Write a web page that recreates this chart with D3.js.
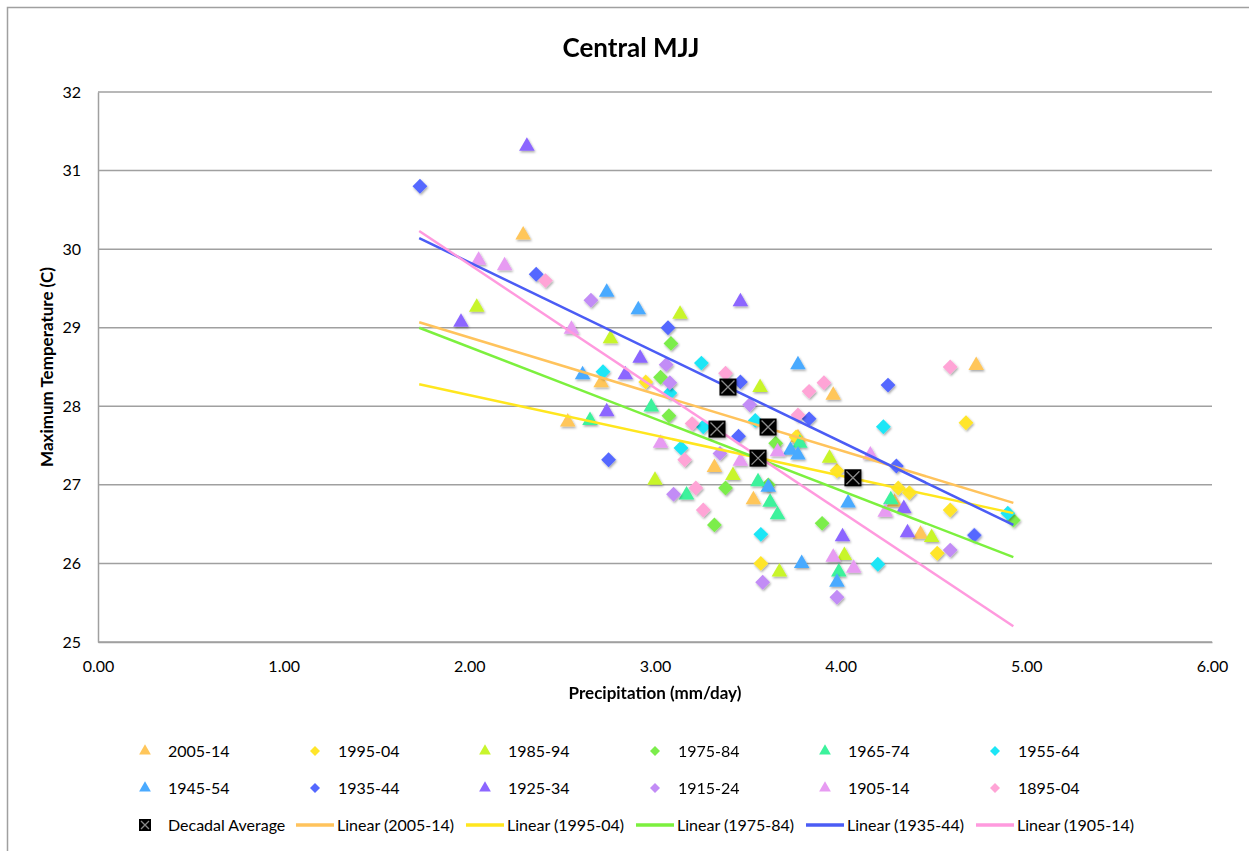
<!DOCTYPE html>
<html>
<head>
<meta charset="utf-8">
<script src="https://cdn.jsdelivr.net/npm/d3@7"></script>
<style>
  body { margin: 0; background: #fff; }
  text { font-family: Lato, "Open Sans", sans-serif; fill: #000; }
</style>
</head>
<body>
<svg id="chart" width="1249" height="851"></svg>
<script>
// series, in legend order
const seriesNames = ['2005-14', '1995-04', '1985-94', '1975-84', '1965-74', '1955-64',
  '1945-54', '1935-44', '1925-34', '1915-24', '1905-14', '1895-04'];
const seriesShapes = ['tri', 'dia', 'tri', 'dia', 'tri', 'dia', 'tri', 'dia', 'tri', 'dia', 'tri', 'dia'];
const seriesColors = ['#ffc65a', '#ffe52a', '#c8f52c', '#7ced4c', '#3cf29c', '#1ce6f6',
  '#4aaaff', '#5468ff', '#8c66ff', '#c28cf6', '#e79bf2', '#ffa4d6'];

// [precip, tmax]
const p2005 = [[2.29, 30.18], [2.71, 28.30], [2.53, 27.80], [3.32, 27.22], [3.53, 26.81],
  [3.96, 28.14], [4.73, 28.52], [4.29, 26.78], [4.43, 26.37], [3.77, 27.60]];
const p1995 = [[2.95, 28.31], [3.76, 27.61], [3.98, 27.18], [4.675, 27.79], [4.31, 26.96],
  [4.37, 26.90], [4.59, 26.68], [4.52, 26.13], [3.57, 26.00]];
const p1985 = [[2.04, 29.26], [3.135, 29.17], [2.76, 28.86], [3.566, 28.24], [3.00, 27.06],
  [3.42, 27.12], [3.67, 25.89], [3.94, 27.34], [4.02, 26.10], [4.49, 26.33]];
const p1975 = [[3.086, 28.80], [3.03, 28.37], [3.075, 27.88], [3.32, 26.49], [3.38, 26.96],
  [3.65, 27.53], [3.90, 26.51], [4.93, 26.55], [3.61, 27.00]];
const p1965 = [[2.65, 27.82], [2.98, 27.99], [3.17, 26.87], [3.555, 27.04], [3.62, 26.78],
  [3.66, 26.62], [3.78, 27.53], [3.99, 25.89], [4.27, 26.81]];
const p1955 = [[3.25, 28.55], [2.72, 28.44], [3.08, 28.17], [3.26, 27.74], [3.14, 27.47],
  [3.54, 27.82], [3.57, 26.37], [4.23, 27.74], [4.90, 26.64], [4.20, 25.99]];
const p1945 = [[2.74, 29.45], [2.91, 29.23], [2.61, 28.40], [3.77, 28.53], [3.61, 26.97],
  [3.73, 27.44], [3.77, 27.38], [3.79, 26.00], [3.98, 25.76], [4.04, 26.77]];
const p1935 = [[1.734, 30.80], [2.36, 29.68], [3.07, 29.00], [3.46, 28.31], [2.75, 27.32],
  [3.45, 27.62], [3.83, 27.84], [4.255, 28.27], [4.30, 27.24], [4.72, 26.36]];
const p1925 = [[2.31, 31.31], [1.955, 29.07], [3.46, 29.33], [2.92, 28.61], [2.84, 28.40],
  [2.74, 27.93], [4.01, 26.34], [4.34, 26.70], [4.36, 26.39]];
const p1915 = [[2.655, 29.35], [3.06, 28.53], [3.08, 28.30], [3.51, 28.02], [3.35, 27.40],
  [3.10, 26.88], [3.58, 25.76], [3.98, 25.57], [4.59, 26.17]];
const p1905 = [[2.05, 29.86], [2.19, 29.79], [2.55, 28.98], [3.03, 27.53], [3.46, 27.30],
  [3.66, 27.42], [4.16, 27.38], [4.24, 26.65], [3.96, 26.08], [4.07, 25.94]];
const p1895 = [[2.41, 29.60], [3.38, 28.42], [3.20, 27.78], [3.16, 27.32], [3.22, 26.96],
  [3.26, 26.68], [3.77, 27.89], [3.83, 28.19], [3.91, 28.30], [4.59, 28.50]];
const seriesPoints = [p2005, p1995, p1985, p1975, p1965, p1955, p1945, p1935, p1925, p1915, p1905, p1895];

const decadalAvg = [[3.393, 28.245], [3.334, 27.71], [3.609, 27.736], [3.555, 27.34], [4.066, 27.09]];

// trend lines, endpoints
const trendNames = ['Linear (2005-14)', 'Linear (1995-04)', 'Linear (1975-84)', 'Linear (1935-44)', 'Linear (1905-14)'];
const trendColors = ['#ffc35c', '#ffe61e', '#7cf03e', '#4b5cf5', '#ff9ade'];
const trendX = [1.73, 4.93];
const trendStartY = [29.07, 28.28, 29.00, 30.14, 30.23];
const trendEndY = [26.77, 26.64, 26.08, 26.49, 25.20];

const xTicks = [0, 1, 2, 3, 4, 5, 6];
const yTicks = [25, 26, 27, 28, 29, 30, 31, 32];

const svg = d3.select('#chart');
const gridColor = '#a0a0a0';

// shadow like the spreadsheet markers
const defs = svg.append('defs');
defs.append('filter').attr('id', 'shadow')
  .attr('x', '-50%').attr('y', '-50%').attr('width', '200%').attr('height', '200%')
  .append('feDropShadow')
  .attr('dx', 1).attr('dy', 1.5).attr('stdDeviation', 1)
  .attr('flood-color', '#000').attr('flood-opacity', 0.35);

// outer frame
svg.append('rect')
  .attr('x', 7.5).attr('y', 7.5).attr('width', 1300).attr('height', 900)
  .attr('fill', 'none').attr('stroke', gridColor).attr('stroke-width', 1.5);

const xScale = d3.scaleLinear().domain([0, 6]).range([98, 1212]);
const yScale = d3.scaleLinear().domain([25, 32]).range([642, 92]);

// gridlines
svg.append('g')
  .selectAll('line')
  .data(yTicks)
  .enter()
  .append('line')
  .attr('x1', xScale(0)).attr('x2', xScale(6))
  .attr('y1', (d) => yScale(d)).attr('y2', (d) => yScale(d))
  .attr('stroke', gridColor).attr('stroke-width', 1.5);

// AXES
const xAxis = svg.append('g')
  .attr('transform', `translate(0, ${yScale(25)})`)
  .call(d3.axisBottom(xScale).tickValues(xTicks).tickFormat(d3.format('.2f')).tickSize(0).tickPadding(19));
const yAxis = svg.append('g')
  .attr('transform', `translate(${xScale(0)}, 0)`)
  .call(d3.axisLeft(yScale).tickValues(yTicks).tickFormat(d3.format('d')).tickSize(0).tickPadding(17));
[xAxis, yAxis].forEach((ax) => {
  ax.select('.domain').attr('stroke', gridColor).attr('stroke-width', 1.5);
  ax.selectAll('text').style('font-size', '16px').attr('fill', '#000');
});

// markers
function symbolPath(shape) {
  return shape === 'tri'
    ? d3.symbol(d3.symbolTriangle, 105)()
    : d3.symbol(d3.symbolSquare, 110)();
}

seriesPoints.forEach((pts, i) => {
  svg.append('g')
    .attr('filter', 'url(#shadow)')
    .selectAll('path')
    .data(pts)
    .enter()
    .append('path')
    .attr('d', symbolPath(seriesShapes[i]))
    .attr('transform', (d) => `translate(${xScale(d[0])}, ${yScale(d[1])})` + (seriesShapes[i] === 'dia' ? ' rotate(45)' : ''))
    .attr('fill', seriesColors[i]);
});

// trend lines
svg.append('g')
  .selectAll('line')
  .data(trendNames)
  .enter()
  .append('line')
  .attr('x1', xScale(trendX[0])).attr('x2', xScale(trendX[1]))
  .attr('y1', (d, i) => yScale(trendStartY[i]))
  .attr('y2', (d, i) => yScale(trendEndY[i]))
  .attr('stroke', (d, i) => trendColors[i])
  .attr('stroke-width', 2.5);

// decadal average markers
function avgMarker(g, size) {
  let h = size / 2;
  g.append('rect').attr('x', -h).attr('y', -h).attr('width', size).attr('height', size).attr('fill', '#000');
  g.append('path')
    .attr('d', `M${-h + 2},${-h + 2}L${h - 2},${h - 2}M${h - 2},${-h + 2}L${-h + 2},${h - 2}`)
    .attr('stroke', '#8a8a8a').attr('stroke-width', 1.3);
}
svg.append('g')
  .attr('filter', 'url(#shadow)')
  .selectAll('g')
  .data(decadalAvg)
  .enter()
  .append('g')
  .attr('transform', (d) => `translate(${xScale(d[0])}, ${yScale(d[1])})`)
  .each(function () { avgMarker(d3.select(this), 17); });

// titles
svg.append('text')
  .attr('x', 631).attr('y', 57)
  .attr('text-anchor', 'middle')
  .style('font-size', '26px').style('font-weight', 'bold')
  .text('Central MJJ');

svg.append('text')
  .attr('x', 655).attr('y', 699)
  .attr('text-anchor', 'middle')
  .style('font-size', '17px').style('font-weight', 'bold')
  .text('Precipitation (mm/day)');

svg.append('text')
  .attr('transform', 'translate(53, 367) rotate(-90)')
  .attr('text-anchor', 'middle')
  .style('font-size', '17px').style('font-weight', 'bold')
  .text('Maximum Temperature (C)');

// LEGEND
const colStep = 170;
const legend = svg.append('g');
seriesNames.forEach((name, i) => {
  let col = i % 6;
  let row = Math.floor(i / 6);
  let mx = 145 + col * colStep;
  let my = 751 + row * 37;
  legend.append('path')
    .attr('d', seriesShapes[i] === 'tri' ? d3.symbol(d3.symbolTriangle, 60)() : d3.symbol(d3.symbolSquare, 50)())
    .attr('transform', `translate(${mx}, ${my})` + (seriesShapes[i] === 'dia' ? ' rotate(45)' : ''))
    .attr('fill', seriesColors[i]);
  legend.append('text')
    .attr('x', mx + 23).attr('y', my + 6)
    .style('font-size', '16px')
    .text(name);
});

// third row: decadal average + trend lines
let avgG = legend.append('g').attr('transform', 'translate(145, 825)');
avgMarker(avgG, 12);
legend.append('text')
  .attr('x', 168).attr('y', 831)
  .style('font-size', '16px')
  .text('Decadal Average');
trendNames.forEach((name, i) => {
  let lx = 296 + i * colStep;
  legend.append('line')
    .attr('x1', lx).attr('x2', lx + 38)
    .attr('y1', 825).attr('y2', 825)
    .attr('stroke', trendColors[i]).attr('stroke-width', 3.5);
  legend.append('text')
    .attr('x', lx + 41).attr('y', 831)
    .style('font-size', '16px')
    .text(name);
});
</script>
</body>
</html>
